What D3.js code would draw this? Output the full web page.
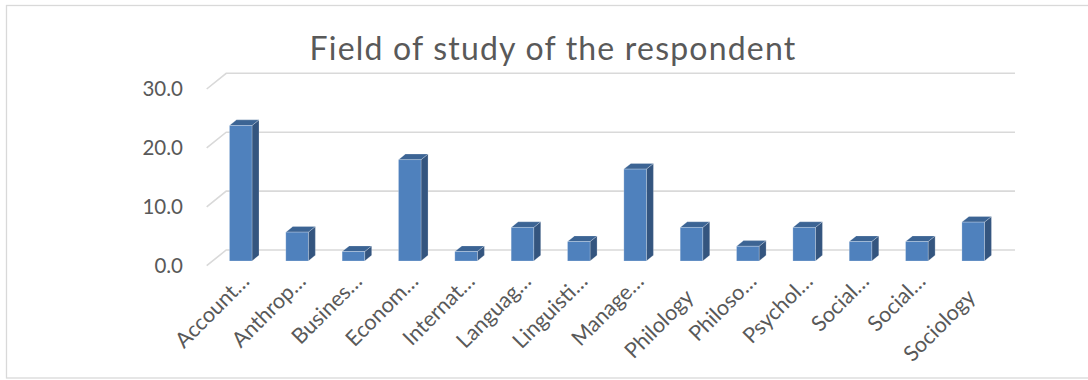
<!DOCTYPE html>
<html>
<head>
<meta charset="utf-8">
<script src="https://cdn.jsdelivr.net/npm/d3@7/dist/d3.min.js"></script>
<style>
  html, body { margin: 0; padding: 0; background: #fff; }
  svg { display: block; font-family: Lato, "Open Sans", sans-serif; }
</style>
</head>
<body>
<svg id="chart" width="1088" height="380"></svg>
<script>
// Share of respondents (%) by field of study
const categories = ["Account…", "Anthrop…", "Busines…", "Econom…", "Internat…", "Languag…",
  "Linguisti…", "Manage…", "Philology", "Philoso…", "Psychol…", "Social…", "Social…", "Sociology"];
const shares = [23.0, 4.9, 1.6, 17.2, 1.6, 5.7, 3.3, 15.6, 5.7, 2.5, 5.7, 3.3, 3.3, 6.6];
const yTicks = [0, 10, 20, 30];
const chartTitle = "Field of study of the respondent";

(function draw() {
  const svg = d3.select("#chart");
  const textColor = "#595959";
  const gridColor = "#D9D9D9";

  // oblique depth of the 3-D plot box (front plane -> back wall)
  const DX = 19.5, DY = -15.7;
  // bars occupy a slab inside that depth
  const zFront = 0.3, zDepth = 0.36;

  const x = d3.scaleBand()
    .domain(d3.range(categories.length))
    .range([206.7, 995.5])
    .paddingInner(0.6)
    .paddingOuter(0.3);

  const y = d3.scaleLinear().domain([0, 30]).range([265.7, 89]);
  const fmt = d3.format(".1f");

  // chart frame
  svg.append("rect")
    .attr("x", 6.5).attr("y", 5.5)
    .attr("width", 1095).attr("height", 372.5)
    .attr("fill", "#fff")
    .attr("stroke", gridColor).attr("stroke-width", 1.3);

  // title
  svg.append("text")
    .attr("x", 553).attr("y", 60)
    .attr("text-anchor", "middle")
    .attr("font-size", 32)
    .attr("letter-spacing", 1.2)
    .attr("fill", textColor)
    .text(chartTitle);

  // gridlines: side-wall diagonal + back-wall line
  const [x0, x1] = x.range();
  svg.append("g")
    .attr("stroke", gridColor).attr("stroke-width", 1.6).attr("fill", "none")
    .selectAll("path")
    .data(yTicks)
    .join("path")
    .attr("d", v => {
      const yf = y(v);
      return `M${x0},${yf}L${x0 + DX},${yf + DY}L${x1 + DX},${yf + DY}`;
    });

  // y tick labels
  svg.append("g")
    .selectAll("text")
    .data(yTicks)
    .join("text")
    .attr("x", 183)
    .attr("y", v => y(v))
    .attr("dy", "0.35em")
    .attr("text-anchor", "end")
    .attr("font-size", 20.5)
    .attr("fill", textColor)
    .text(v => fmt(v));

  // 3-D columns
  const bw = x.bandwidth();
  const sdx = zDepth * DX, sdy = zDepth * DY;
  const bars = svg.append("g")
    .selectAll("g")
    .data(shares.map((v, i) => ({ v, i })))
    .join("g");

  const barLeft = d => x(d.i) + zFront * DX;
  const barTop = d => y(d.v) + zFront * DY;
  const barBottom = y(0) + zFront * DY;
  const edge = "rgba(255,255,255,0.28)";

  bars.append("path") // side face
    .attr("d", d => {
      const r = barLeft(d) + bw, t = barTop(d), b = barBottom;
      return `M${r},${t}L${r + sdx},${t + sdy}L${r + sdx},${b + sdy}L${r},${b}Z`;
    })
    .attr("fill", "#34557F")
    .attr("stroke", edge).attr("stroke-width", 0.8);

  bars.append("path") // top face
    .attr("d", d => {
      const l = barLeft(d), r = l + bw, t = barTop(d);
      return `M${l},${t}L${r},${t}L${r + sdx},${t + sdy}L${l + sdx},${t + sdy}Z`;
    })
    .attr("fill", "#3C6494")
    .attr("stroke", edge).attr("stroke-width", 0.8);

  bars.append("rect") // front face
    .attr("x", d => barLeft(d))
    .attr("y", d => barTop(d))
    .attr("width", bw)
    .attr("height", d => barBottom - barTop(d))
    .attr("fill", "#4F81BD")
    .attr("stroke", edge).attr("stroke-width", 0.8);

  // category labels, rotated 45°; truncated ones sit as the first line of a wrapped label
  svg.append("g")
    .selectAll("text")
    .data(categories.map((c, i) => ({ c, i })))
    .join("text")
    .attr("transform", d => {
      const cx = x(d.i) + bw / 2 + zFront * DX;
      const wrapped = d.c.endsWith("…");
      const ax = wrapped ? cx + 10 : cx + 3.5;
      const ay = wrapped ? 282.5 : 298.5;
      return `translate(${ax},${ay}) rotate(-45)`;
    })
    .attr("text-anchor", "end")
    .attr("font-size", 21.5)
    .attr("fill", textColor)
    .text(d => d.c);
})();
</script>
</body>
</html>
